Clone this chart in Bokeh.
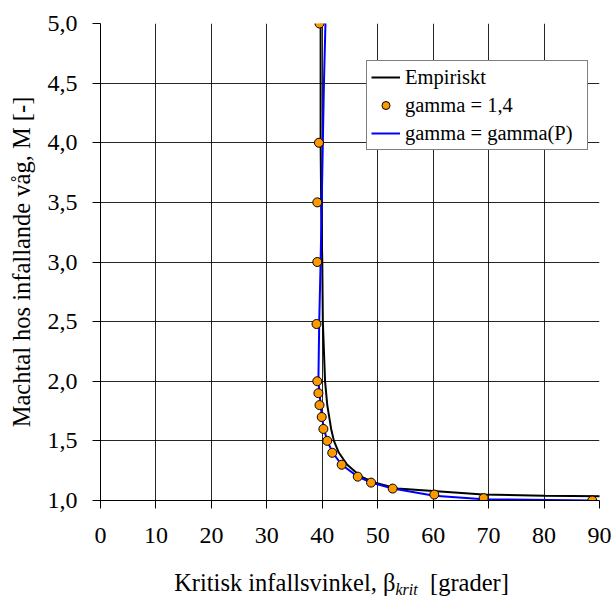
from bokeh.plotting import figure
from bokeh.models import Range1d, Legend, LegendItem, FixedTicker, CustomJSTickFormatter, Div
from bokeh.layouts import column
from bokeh.embed import file_html
from bokeh.resources import INLINE

# Empirical curve
emp_angle = [39.7, 39.7, 39.7, 39.8, 40.0, 40.1, 40.5, 40.9, 41.6, 42.1, 43.0, 44.5, 47.0, 49.5, 53.5, 60.0, 69.0, 80.0, 90.5]
emp_mach = [5.0, 4.5, 4.0, 3.5, 3.0, 2.5, 2.0, 1.8, 1.6, 1.5, 1.4, 1.3, 1.2, 1.15, 1.1, 1.08, 1.05, 1.04, 1.035]

# gamma = gamma(P) curve
gp_angle = [40.6, 40.3, 40.1, 39.9, 39.7, 39.45, 39.3, 39.5, 39.7, 39.95, 40.3, 40.9, 41.9, 43.5, 46.4, 48.8, 52.7, 60.2, 69.1, 88.7]
gp_mach = [5.05, 4.5, 4.0, 3.5, 3.0, 2.5, 2.0, 1.9, 1.8, 1.7, 1.6, 1.5, 1.4, 1.3, 1.2, 1.15, 1.1, 1.04, 1.01, 1.0]

# gamma = 1,4 points
g14_angle = [39.5, 39.4, 39.1, 39.1, 38.96, 39.1, 39.3, 39.5, 39.9, 40.2, 40.9, 41.8, 43.5, 46.4, 48.8, 52.7, 60.2, 69.1, 88.7]
g14_mach = [5.0, 4.0, 3.5, 3.0, 2.48, 2.0, 1.9, 1.8, 1.7, 1.6, 1.5, 1.4, 1.3, 1.2, 1.15, 1.1, 1.05, 1.02, 1.0]

x_ticks = [0, 10, 20, 30, 40, 50, 60, 70, 80, 90]
y_ticks = [1.0, 1.5, 2.0, 2.5, 3.0, 3.5, 4.0, 4.5, 5.0]

FONT = "Liberation Serif"

p = figure(width=613, height=558, output_backend="svg", toolbar_location=None,
           x_range=Range1d(0, 90), y_range=Range1d(1.0, 5.0),
           min_border_left=100, min_border_right=14, min_border_top=23, min_border_bottom=58)
p.outline_line_color = None
p.background_fill_color = "white"
p.border_fill_color = "white"
p.margin = 0

p.xaxis.ticker = FixedTicker(ticks=x_ticks)
p.yaxis.ticker = FixedTicker(ticks=y_ticks)
p.yaxis.formatter = CustomJSTickFormatter(code="return tick.toFixed(1).replace('.', ',');")

for ax in (p.xaxis[0], p.yaxis[0]):
    ax.axis_line_color = "black"
    ax.axis_line_width = 1
    ax.major_tick_line_color = "black"
    ax.major_tick_out = 8
    ax.major_tick_in = 0
    ax.minor_tick_line_color = None
    ax.major_label_text_font = FONT
    ax.major_label_text_font_size = "24px"
    ax.major_label_text_color = "black"
    ax.axis_label_text_font = FONT
    ax.axis_label_text_font_size = "24.5px"
    ax.axis_label_text_font_style = "normal"
    ax.axis_label_text_color = "black"

p.xaxis.major_label_standoff = 19
p.yaxis.major_label_standoff = 15
p.yaxis.axis_label = "Machtal hos infallande våg, M [-]"
p.yaxis.axis_label_standoff = 10

p.xgrid.grid_line_color = "black"
p.ygrid.grid_line_color = "black"
p.xgrid.grid_line_alpha = 0.85
p.ygrid.grid_line_alpha = 0.85

r_emp = p.line(emp_angle, emp_mach, line_color="black", line_width=2)
r_gp = p.line(gp_angle, gp_mach, line_color="#0000FF", line_width=2)
r_g14 = p.scatter(g14_angle, g14_mach, size=9, fill_color="#FF9900", line_color="black", line_width=1)

legend = Legend(items=[LegendItem(label="Empiriskt", renderers=[r_emp]),
                       LegendItem(label="gamma = 1,4", renderers=[r_g14]),
                       LegendItem(label="gamma = gamma(P)", renderers=[r_gp])],
                location=(266, 350))
legend.label_text_font = FONT
legend.label_text_font_size = "20.5px"
legend.label_text_color = "black"
legend.border_line_color = "black"
legend.border_line_width = 1
legend.background_fill_color = "white"
legend.background_fill_alpha = 1
legend.padding = 4
legend.spacing = 4
legend.margin = 0
legend.glyph_width = 29
legend.glyph_height = 20
legend.label_height = 24
legend.label_width = 178
legend.label_standoff = 5
p.add_layout(legend, "center")

title = Div(
    text=('<div style="width:613px; box-sizing:border-box; padding-left:70px; padding-top:11px; '
          'font-family:\'Liberation Serif\'; font-size:24.5px; color:black; '
          'white-space:nowrap; text-align:center; line-height:28px;">'
          'Kritisk infallsvinkel, β<sub style="font-style:italic; font-size:16px; '
          'vertical-align:-4px; line-height:0;">krit</sub>&nbsp; [grader]</div>'),
    width=613, height=43, margin=0,
)

layout = column(p, title, spacing=0)
open("out.html", "w").write(file_html(layout, INLINE))
